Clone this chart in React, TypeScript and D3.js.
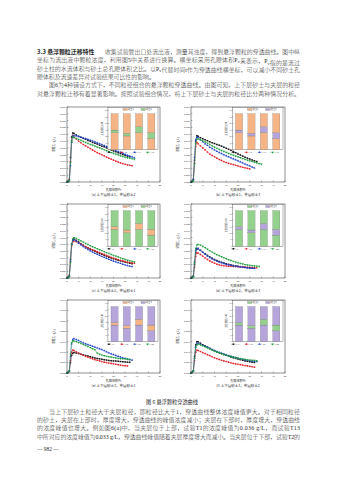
import React from 'react';
import * as d3 from 'd3';

// ---------- data (concentration in 10^-3 g/L) ----------
const PV = [0, 0.5, 1, 1.5, 2, 2.5, 3, 4, 5, 6, 7, 8, 9, 10, 11, 12, 13, 14, 15, 16, 17, 18, 19, 20, 21, 22, 23, 24, 25, 26, 27, 28, 29, 30];

const concT1 = [0, 0.5, 2, 18, 33, 36, 35.5, 34.5, 33.5, 32.8, 32, 31.3, 30.5, 29.8, 29, 28.5, 27.8, 27, 26.3, 25.8, 25, 24.3, 23.5, 22.8, 22.2, 21.5, 20.8, 20.2, 19.6, 19, 18.5];
const concT2 = [0, 0.5, 1.5, 15, 30, 34, 33, 31.5, 30, 28.8, 27.5, 26.5, 25.5, 24.5, 23.5, 22.5, 21.5, 20.8, 20, 19.2, 18.3, 17.5, 16.8, 16, 15.3, 14.7, 14, 13.5, 13, 12.6, 12.3, 12];
const concT13 = [0, 0.3, 1, 12, 29, 33.5, 34, 33.8, 33.3, 32.8, 32.3, 31.8, 31.3, 30.7, 30.1, 29.4, 28.8, 28.1, 27.4, 26.7, 26, 25.3, 24.6, 23.9, 23.1, 22.4, 21.7, 21, 20.3, 19.6, 19, 18.4, 17.8];
const concT14 = [0, 0.3, 1, 14, 30, 33, 32.5, 32, 31.3, 30.5, 29.8, 29, 28.3, 27.6, 27, 26.3, 25.6, 25, 24.3, 23.6, 23, 22.3, 21.6, 21, 20.4, 19.8, 19.2, 18.7, 18.2, 17.8, 17.4, 17, 16.7];

const concT3 = [0, 0.5, 2, 16, 30, 34, 33.5, 32.5, 31.8, 31, 30.3, 29.5, 28.8, 28.2, 27.5, 27, 26.3, 25.5, 24.8, 24, 23.2, 22.3, 21.5, 20.6, 19.8, 19, 18.2, 17.5, 16.8, 16.2, 15.5, 15];
const concT4 = [0, 0.5, 1.5, 14, 26, 29, 28, 26.5, 25, 23.5, 22, 20.5, 19.5, 18.5, 17.5, 16.5, 15.8, 15, 14.3, 13.7, 13.2, 12.8, 12.3, 11.8, 11.3, 10.8, 10.4, 10, 9.6];
const concT15 = [0, 0.5, 2, 18, 31, 33, 32.5, 31, 29.5, 28, 26.8, 25.5, 24.5, 23.5, 22.5, 21.6, 20.8, 20, 19.2, 18.5, 17.8, 17, 16.3, 15.6, 14.8, 14, 13.2, 12.5, 11.8, 11, 10.3];
const concT16 = [0, 0.3, 1, 13, 28, 31.5, 31.5, 31, 30.2, 29.4, 28.5, 27.5, 26.5, 25.5, 24.7, 23.9, 23.1, 22.4, 21.7, 21, 20.3, 19.6, 19, 18.4, 17.8, 17.2, 16.6, 16, 15.5, 15, 14.5, 14, 13.5, 13];

const concT5 = [0, 0.5, 2, 14, 25, 28.5, 29, 28, 26.8, 25.5, 24.3, 23.2, 22.3, 21.4, 20.6, 19.8, 19, 18.3, 17.6, 16.9, 16.2, 15.5, 14.9, 14.3, 13.7, 13.2, 12.7, 12.2, 11.8, 11.4, 11, 10.6];
const concT6 = [0, 0.5, 1.5, 12, 24, 27, 27.5, 27, 26, 25.2, 24.2, 23.3, 22.5, 21.8, 21, 20.3, 19.6, 18.9, 18.2, 17.5, 16.8, 16.1, 15.4, 14.8, 14.3, 13.7, 13.2, 12.7, 12.3, 11.9, 11.5, 11.2, 11];
const concT17 = [0, 0.3, 1.5, 13, 25, 28, 28.5, 27.5, 26, 24.6, 23.3, 22.2, 21.2, 20.2, 19.3, 18.4, 17.6, 16.8, 16, 15.3, 14.6, 13.9, 13.2, 12.6, 12, 11.4, 10.8, 10.2, 9.7, 9.2, 8.8, 8.5];
const concT18 = [0, 0.3, 1, 11, 25, 29, 30, 29.5, 28.5, 27.5, 26.6, 25.7, 24.9, 24.1, 23.3, 22.5, 21.8, 21.1, 20.4, 19.6, 18.9, 18.2, 17.5, 16.8, 16.2, 15.6, 15, 14.4, 13.8, 13.3, 12.8, 12.4, 12];

const concT7 = [0, 0.5, 1.5, 10, 19, 21.5, 22, 20.5, 19.2, 18, 16.8, 15.7, 14.7, 13.8, 13, 12.3, 11.7, 11.1, 10.6, 10.1, 9.7, 9.3, 9, 8.7, 8.4, 8.1, 7.9, 7.7, 7.5, 7.3, 7.2];
const concT8 = [0, 0.5, 1.2, 8, 16, 18.5, 18.5, 17.5, 16.3, 15, 13.8, 12.7, 11.8, 11, 10.3, 9.8, 9.4, 9.1, 8.9, 8.8, 8.7, 8.6, 8.5, 8.4, 8.3, 8.2, 8.1, 8, 7.9, 7.8, 7.7, 7.6];
const concT19 = [0, 0.3, 1.5, 12, 20.5, 22, 21.8, 20.5, 19, 17.6, 16.3, 15.2, 14.2, 13.3, 12.5, 11.8, 11.2, 10.7, 10.2, 9.8, 9.4, 9.1, 8.8, 8.5, 8.2, 8, 7.8, 7.6, 7.4, 7.2, 7.1];
const concT20 = [0, 0.3, 1, 11, 22, 24.5, 25, 24.5, 23.5, 22.5, 21.4, 20.3, 19.3, 18.3, 17.4, 16.6, 15.8, 15, 14.3, 13.6, 13, 12.4, 11.8, 11.3, 10.8, 10.4, 10, 9.7, 9.4, 9.2, 9, 8.8, 8.6];

const concT9 = [0, 0.3, 1, 5, 8.5, 9.5, 9.8, 9.6, 9.3, 9, 8.7, 8.4, 8.1, 7.8, 7.5, 7.2, 7, 6.8, 6.6, 6.4, 6.2, 6, 5.9, 5.8, 5.7, 5.6, 5.5, 5.4, 5.3, 5.2, 5.1];
const concT10 = [0, 0.3, 1, 6, 10, 11, 10.8, 10.2, 9.6, 9, 8.5, 8, 7.6, 7.2, 6.8, 6.4, 6.1, 5.8, 5.5, 5.2, 5, 4.8, 4.6, 4.4, 4.2, 4, 3.8, 3.6, 3.5, 3.4];
const concT21 = [0, 0.3, 1, 8, 14, 16, 16.5, 16, 15.5, 15, 14.5, 14, 13.6, 13.2, 12.8, 12.4, 12, 11.6, 11.2, 10.7, 10.2, 9.7, 9.2, 8.8, 8.4, 8, 7.6, 7.3, 7, 6.7, 6.4, 6.2];
const concT22 = [0, 0.3, 1, 9, 14.5, 15.5, 15.3, 15, 14.6, 14.2, 13.7, 13.2, 12.7, 12.2, 11.7, 11.2, 9.5, 9, 8.6, 8.3, 8, 7.8, 7.6, 7.4, 7.2, 7, 6.9, 6.8, 6.7, 6.6, 6.5];

const concT11 = [0, 0.3, 1, 8, 13.5, 15, 15, 14.3, 13.6, 13, 12.4, 11.8, 11.2, 10.7, 10.2, 9.7, 9.3, 8.9, 8.5, 8.1, 7.7, 7.3, 7, 6.7, 6.4, 6.1, 5.8, 5.6, 5.4, 5.2, 5];
const concT12 = [0, 0.3, 1, 6, 10, 11, 10.8, 10.3, 9.8, 9.3, 8.8, 8.3, 7.8, 7.3, 6.9, 6.5, 6.1, 5.8, 5.5, 5.2, 4.9, 4.6, 4.4, 4.2, 4, 3.8, 3.6, 3.4, 3.2, 3, 2.8];
const concT23 = [0, 0.3, 1, 7, 12.5, 14, 14.2, 13.8, 13.3, 12.8, 12.3, 11.8, 11.3, 10.8, 10.3, 9.9, 9.5, 9.1, 8.7, 8.3, 8, 7.7, 7.4, 7.1, 6.8, 6.5, 6.3, 6.1, 5.9, 5.7, 5.6, 5.5];
const concT24 = [0, 0.3, 1, 7, 12, 13.5, 13.8, 13.5, 13, 12.5, 12, 11.5, 11, 10.5, 10.1, 9.7, 9.3, 8.9, 8.5, 8.2, 7.9, 7.6, 7.3, 7.1, 6.9, 6.7, 6.5, 6.3, 6.2, 6.1, 6, 5.9];

const panelNames = [
  ['T1', 'T2', 'T13', 'T14'],
  ['T3', 'T4', 'T15', 'T16'],
  ['T5', 'T6', 'T17', 'T18'],
  ['T7', 'T8', 'T19', 'T20'],
  ['T9', 'T10', 'T21', 'T22'],
  ['T11', 'T12', 'T23', 'T24'],
];
const panelData = [
  [concT1, concT2, concT13, concT14],
  [concT3, concT4, concT15, concT16],
  [concT5, concT6, concT17, concT18],
  [concT7, concT8, concT19, concT20],
  [concT9, concT10, concT21, concT22],
  [concT11, concT12, concT23, concT24],
];
const panelYMax = [0.055, 0.055, 0.055, 0.055, 0.035, 0.035];
const panelHost = [1, 1, 2, 2, 3, 3];
const panelInter = [2, 3, 1, 3, 1, 2];
const panelCaptions = [
  '(a) 上下层砂土1，夹层砂土2',
  '(b) 上下层砂土1，夹层砂土3',
  '(c) 上下层砂土2，夹层砂土1',
  '(d) 上下层砂土2，夹层砂土3',
  '(e) 上下层砂土3，夹层砂土1',
  '(f) 上下层砂土3，夹层砂土2',
];
const soilNames = ['砂土1', '砂土2', '砂土3'];

// layer thickness (cm) of the 4 tests in each panel
const layerTotal = [55, 55, 55, 55];
const interBottom = [26, 21, 26, 17];
const interTop = [30, 25, 35, 26];

const xTicks = [0, 5, 10, 15, 20, 25, 30, 35, 40];
const yTicksTall = [0, 0.005, 0.01, 0.015, 0.02, 0.025, 0.03, 0.035, 0.04, 0.045, 0.05, 0.055];
const yTicksShort = [0, 0.005, 0.01, 0.015, 0.02, 0.025, 0.03, 0.035];
const insetTicks = [0, 10, 20, 30, 40, 50, 60];

const headingText = '3.3  悬浮颗粒迁移特性';
const topLines = [
  '　收集试验管出口处流出液，测量其浊度，得到悬浮颗粒的穿透曲线。图中纵',
  '坐标为流出液中颗粒浓度，利用图5中关系进行换算。横坐标采用孔隙体积P_v来表示，P_v指的是流过',
  '砂土柱的水流体积与砂土总孔隙体积之比。以P_v代替时间t作为穿透曲线横坐标，可以减小不同砂土孔',
  '隙体积及流速差异对试验结果可比性的影响。',
  '　　图6为4种铺设方式下，不同粒径组合的悬浮颗粒穿透曲线。由图可知，上下层砂土与夹层的粒径',
  '对悬浮颗粒迁移有着显著影响。按照试验组合情况，将上下层砂土与夹层的粒径比分两种情况分析。',
];
const bottomLines = [
  '　　当上下层砂土粒径大于夹层粒径，即粒径比大于1，穿透曲线整体浓度峰值更大。对于相同粒径',
  '的砂土，夹层在上部时，厚度增大，穿透曲线的峰值浓度减小；夹层在下部时，厚度增大，穿透曲线',
  '的浓度峰值也增大。例如图6(a)中，当夹层位于上部，试验T1的浓度峰值为0.036 g/L，而试验T13',
  '中所对应的浓度峰值为0.033 g/L，穿透曲线峰值随着夹层厚度增大而减小。当夹层位于下部，试验T2的',
];
const figCaption = '图 6  悬浮颗粒穿透曲线';
const pageNumber = '— 982 —';

// ---------- styling / layout ----------
const FONT = "'Liberation Serif','Noto Sans CJK SC',serif";
const CJK = "'Noto Sans CJK SC','Liberation Serif',sans-serif";
const TXT = '#2a2a2a';
const seriesColors = ['#111111', '#e5202a', '#2140d0', '#1f9e3e'];
const soilColors = ['#F4B486', '#93D18C', '#B5A5DA'];
const COLS: [number, number][] = [[67, 160], [191, 285]];
const ROWS: [number, number][] = [[107, 182], [204, 278], [300, 373]];
const symTypes = [d3.symbolSquare, d3.symbolCircle, d3.symbolTriangle, d3.symbolTriangle];

function withSub(s: string, fs: number) {
  const parts = s.split('P_v');
  const out: any[] = [];
  parts.forEach((p, i) => {
    out.push(<tspan key={'p' + i}>{p}</tspan>);
    if (i < parts.length - 1) {
      out.push(<tspan key={'P' + i}>P</tspan>);
      out.push(<tspan key={'v' + i} fontSize={fs * 0.7} dy={fs * 0.2}>v</tspan>);
      out.push(<tspan key={'r' + i} dy={-fs * 0.2}></tspan>);
    }
  });
  return out;
}

function Panel({ idx }: { idx: number }) {
  const [x0, x1] = COLS[idx % 2];
  const [y0, y1] = ROWS[Math.floor(idx / 2)];
  const w = x1 - x0, h = y1 - y0;
  const yMax = panelYMax[idx];
  const yTicks = yMax > 0.04 ? yTicksTall : yTicksShort;
  const x = d3.scaleLinear().domain([0, 40]).range([x0, x1]);
  const y = d3.scaleLinear().domain([0, yMax]).range([y1, y0]);
  const line = d3.line<number>().x((_, k) => x(PV[k])).y(v => y(v / 1000));
  const names = panelNames[idx];
  const data = panelData[idx];

  const ix0 = x0 + 0.44 * w, ix1 = x1 - 2;
  const iTop = y0 + 0.6, iBot = y0 + 0.57 * h;
  const iw = ix1 - ix0;
  const iy = d3.scaleLinear().domain([0, 60]).range([iBot, iTop + 2.8]);
  const ib = d3.scaleBand().domain(names).range([ix0, ix1]).paddingInner(0.42).paddingOuter(0.25);
  const host = soilColors[panelHost[idx] - 1];
  const inter = soilColors[panelInter[idx] - 1];
  const legendSoils = [panelHost[idx], panelInter[idx]].sort();
  const sym = (k: number, size: number) => d3.symbol().type(symTypes[k]).size(size)() as string;

  return (
    <g>
      {data.map((arr, s) => (
        <g key={s}>
          <path d={line(arr) as string} fill="none" stroke={seriesColors[s]} strokeWidth={0.45} />
          {arr.map((v, k) => (
            <path key={k} d={sym(s, 2.2)} fill={seriesColors[s]}
              transform={`translate(${x(PV[k])},${y(v / 1000)})${s === 3 ? ' rotate(180)' : ''}`} />
          ))}
        </g>
      ))}
      <rect x={x0} y={y0} width={w} height={h} fill="none" stroke="#222" strokeWidth={0.5} />
      {yTicks.map(t => (
        <g key={t}>
          <line x1={x0} x2={x0 + 1.4} y1={y(t)} y2={y(t)} stroke="#222" strokeWidth={0.35} />
          <text x={x0 - 1.2} y={y(t) + 0.9} fontSize={2.6} textAnchor="end" fill={TXT}>{d3.format('.3f')(t)}</text>
        </g>
      ))}
      {xTicks.map(t => (
        <g key={t}>
          <line x1={x(t)} x2={x(t)} y1={y1} y2={y1 - 1.4} stroke="#222" strokeWidth={0.35} />
          <text x={x(t)} y={y1 + 4.3} fontSize={2.7} textAnchor="middle" fill={TXT}>{t}</text>
        </g>
      ))}
      <text x={(x0 + x1) / 2} y={y1 + 8.6} fontSize={3.1} textAnchor="middle" fill={TXT} fontFamily={CJK}>{withSub('孔隙体积P_v', 3.1)}</text>
      <text transform={`translate(${x0 - 12.5},${(y0 + y1) / 2}) rotate(-90)`} fontSize={2.9} textAnchor="middle" fill={TXT} fontFamily={CJK}>浓度C/(g/L)</text>
      <text x={(x0 + x1) / 2} y={y1 + 14.2} fontSize={3.5} textAnchor="middle" fill={TXT} fontFamily={CJK}>{panelCaptions[idx]}</text>

      <rect x={ix0} y={iTop} width={iw} height={iBot - iTop} fill="#fff" stroke="#333" strokeWidth={0.35} />
      {names.map((n, k) => {
        const bx = ib(n) as number, bw = ib.bandwidth();
        const segs = [
          [0, interBottom[k], host],
          [interBottom[k], interTop[k], inter],
          [interTop[k], layerTotal[k], host],
        ] as [number, number, string][];
        return (
          <g key={n}>
            {segs.map(([a, b, c], j) => (
              <rect key={j} x={bx} y={iy(b)} width={bw} height={iy(a) - iy(b)} fill={c} stroke="#555" strokeWidth={0.2} />
            ))}
          </g>
        );
      })}
      {insetTicks.map(t => (
        <g key={t}>
          <line x1={ix0} x2={ix0 + 1} y1={iy(t)} y2={iy(t)} stroke="#333" strokeWidth={0.3} />
          <text x={ix0 - 0.7} y={iy(t) + 0.75} fontSize={2.1} textAnchor="end" fill={TXT}>{t}</text>
        </g>
      ))}
      <text transform={`translate(${ix0 - 5.3},${(iTop + iBot) / 2}) rotate(-90)`} fontSize={2.4} textAnchor="middle" fill={TXT} fontFamily={CJK}>土层厚度/cm</text>
      {legendSoils.map((s, j) => {
        const lx = ix0 + iw * (0.3 + j * 0.36);
        return (
          <g key={s}>
            <rect x={lx} y={iTop + 0.9} width={4.5} height={2} fill={soilColors[s - 1]} stroke="#555" strokeWidth={0.2} />
            <text x={lx + 5.2} y={iTop + 2.7} fontSize={2.2} fill={TXT} fontFamily={CJK}>{soilNames[s - 1]}</text>
          </g>
        );
      })}
      {names.map((n, s) => {
        const lx = ix0 - 1 + s * (iw / 4 + 0.4);
        const ly = iBot + 2.6;
        return (
          <g key={n}>
            <line x1={lx} x2={lx + 4} y1={ly} y2={ly} stroke={seriesColors[s]} strokeWidth={0.4} />
            <path d={sym(s, 2.2)} fill={seriesColors[s]} transform={`translate(${lx + 2},${ly})${s === 3 ? ' rotate(180)' : ''}`} />
            <text x={lx + 4.6} y={ly + 0.8} fontSize={2.3} fill={TXT}>{n}</text>
          </g>
        );
      })}
    </g>
  );
}

export default function App() {
  const textX0 = 37, textX1 = 300;
  return (
    <svg width={339} height={480} viewBox="0 0 339 480" style={{ position: 'absolute', left: 0, top: 0, background: '#fff' }} fontFamily={FONT}>
      <rect width={339} height={480} fill="#fff" />
      <text x={textX0} y={54} fontSize={5.9} fill={TXT} fontWeight="bold" fontFamily={CJK}>{headingText}</text>
      {topLines.map((t, i) => {
        const full = i !== 3;
        const sx = i === 0 ? textX0 + 62 : textX0;
        return (
          <text key={i} x={sx} y={54 + i * 8.3} fontSize={5.9} fill={TXT} fontFamily={FONT} fontWeight={300}
            {...(full ? { textLength: textX1 - sx, lengthAdjust: 'spacing' } : {})}>
            {withSub(t, 5.9)}
          </text>
        );
      })}
      {[0, 1, 2, 3, 4, 5].map(i => <Panel key={i} idx={i} />)}
      <text x={172} y={404} fontSize={5.2} textAnchor="middle" fill={TXT} fontFamily={CJK}>{figCaption}</text>
      {bottomLines.map((t, i) => (
        <text key={i} x={textX0} y={413.5 + i * 8.4} fontSize={5.9} fill={TXT} fontFamily={FONT} fontWeight={300}
          textLength={textX1 - textX0} lengthAdjust="spacing">{t}</text>
      ))}
      <text x={textX0} y={451} fontSize={5.4} fill={TXT}>{pageNumber}</text>
    </svg>
  );
}
